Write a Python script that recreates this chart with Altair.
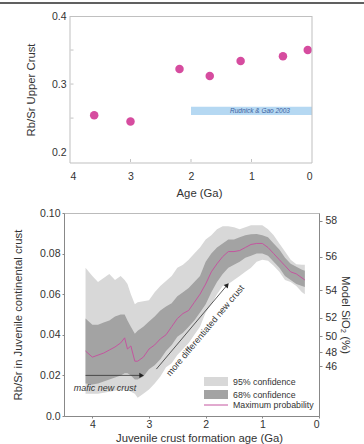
import altair as alt
import pandas as pd

# ---------------- top panel data ----------------
top_age = [3.6, 3.0, 2.19, 1.69, 1.18, 0.48, 0.07]
top_rbsr = [0.254, 0.245, 0.322, 0.312, 0.334, 0.341, 0.350]
ref_age_start = [2.0]
ref_age_end = [0.0]
ref_lo = [0.2546]
ref_hi = [0.2666]
ref_label = ["Rudnick & Gao 2003"]
ref_label_age = [0.86]
ref_label_val = [0.2607]
top_x_ticks = [0, 1, 2, 3, 4]
top_y_ticks = [0.2, 0.25, 0.3, 0.35, 0.4]
top_x_domain = [0, 4]
top_y_domain = [0.184, 0.4]

# ---------------- bottom panel data ----------------
ages = [4.12, 4.0, 3.9, 3.8, 3.7, 3.6, 3.5, 3.43, 3.38, 3.32, 3.25, 3.2, 3.1, 3.0,
        2.9, 2.8, 2.7, 2.6, 2.5, 2.4, 2.3, 2.2, 2.1, 2.0, 1.9, 1.8, 1.7, 1.6, 1.5,
        1.4, 1.3, 1.2, 1.1, 1.0, 0.9, 0.8, 0.7, 0.6, 0.5, 0.4, 0.3, 0.25]
max_prob = [0.032, 0.029, 0.030, 0.031, 0.0325, 0.034, 0.036, 0.0385, 0.033, 0.0345,
            0.027, 0.027, 0.029, 0.033, 0.035, 0.038, 0.040, 0.044, 0.048, 0.0505,
            0.052, 0.056, 0.060, 0.065, 0.071, 0.075, 0.0785, 0.081, 0.081, 0.0815,
            0.083, 0.0845, 0.085, 0.085, 0.083, 0.080, 0.077, 0.074, 0.071, 0.070,
            0.068, 0.067]
ci68_lo = [0.016, 0.0155, 0.016, 0.017, 0.018, 0.019, 0.020, 0.021, 0.021, 0.020,
           0.018, 0.018, 0.0195, 0.023, 0.025, 0.028, 0.032, 0.035, 0.039, 0.041,
           0.044, 0.047, 0.051, 0.055, 0.061, 0.066, 0.070, 0.073, 0.0745, 0.076,
           0.078, 0.079, 0.080, 0.080, 0.079, 0.076, 0.073, 0.069, 0.067, 0.065,
           0.064, 0.0635]
ci68_hi = [0.048, 0.045, 0.045, 0.046, 0.047, 0.049, 0.050, 0.050, 0.047, 0.044,
           0.0405, 0.042, 0.044, 0.0465, 0.049, 0.052, 0.054, 0.0555, 0.059, 0.061,
           0.063, 0.066, 0.069, 0.076, 0.080, 0.083, 0.085, 0.087, 0.087, 0.088,
           0.089, 0.0895, 0.0897, 0.089, 0.088, 0.085, 0.082, 0.078, 0.075, 0.0735,
           0.072, 0.0715]
ci95_lo = [0.011, 0.011, 0.011, 0.0115, 0.012, 0.0125, 0.013, 0.013, 0.013, 0.012,
           0.011, 0.009, 0.011, 0.013, 0.016, 0.0195, 0.024, 0.026, 0.030, 0.033,
           0.036, 0.040, 0.044, 0.051, 0.055, 0.060, 0.064, 0.065, 0.067, 0.069,
           0.071, 0.073, 0.076, 0.077, 0.0765, 0.074, 0.071, 0.067, 0.066, 0.064,
           0.061, 0.060]
ci95_hi = [0.073, 0.069, 0.066, 0.068, 0.070, 0.067, 0.069, 0.067, 0.065, 0.060,
           0.055, 0.056, 0.0565, 0.057, 0.061, 0.064, 0.0665, 0.069, 0.073, 0.0745,
           0.077, 0.080, 0.083, 0.087, 0.089, 0.092, 0.0935, 0.0935, 0.093, 0.092,
           0.093, 0.094, 0.094, 0.094, 0.092, 0.089, 0.085, 0.081, 0.077, 0.0748,
           0.0745, 0.0745]

sio2_labels = ["58", "56", "54", "52", "50", "48", "46"]
sio2_rbsr = [0.0962, 0.0784, 0.0620, 0.0484, 0.0393, 0.0313, 0.0245]

arrow_start_age = [4.12, 2.87]
arrow_start_val = [0.020, 0.0231]
arrow_end_age = [3.13, 1.62]
arrow_end_val = [0.020, 0.0645]
arrow_head_shape = ["triangle-right", "triangle-up"]
arrow_head_angle = [0, 40]

note_text = ["mafic new crust", "more differentiated new crust"]
note_age = [4.33, 2.01]
note_val = [0.0139, 0.0421]

legend_labels = ["95% confidence", "68% confidence", "Maximum probability"]

FONT = "Liberation Sans"
LINE_COLOR = "#c4559f"
DOT_COLOR = "#d64c9f"
FRAME = "#c0c0c0"
one = pd.DataFrame({"k": [0]})

# ================= TOP PANEL =================
top_df = pd.DataFrame({"age": top_age, "rbsr": top_rbsr})
ref_df = pd.DataFrame({"a0": ref_age_start, "a1": ref_age_end, "lo": ref_lo, "hi": ref_hi})
ref_txt = pd.DataFrame({"age": ref_label_age, "v": ref_label_val, "t": ref_label})
xt_df = pd.DataFrame({"age": top_x_ticks[1:-1]})
yt_df = pd.DataFrame({"v": top_y_ticks[1:-1]})

tx = alt.Scale(domain=top_x_domain, reverse=True, nice=False, range=[6, 248])
ty = alt.Scale(domain=top_y_domain, nice=False, zero=False)

top_x_axis = alt.Axis(values=top_x_ticks, format="d", title="Age (Ga)", grid=False,
                      ticks=False, labelPadding=8, titlePadding=6, domain=False,
                      titleX=135)
top_y_axis = alt.Axis(values=[0.2, 0.3, 0.4], format=".1f", title="Rb/Sr Upper Crust",
                      grid=False, ticks=False, labelPadding=4, titlePadding=15,
                      domain=False, offset=-6)


def bar(x0, x1, y0, y1, col):
    return alt.Chart(one).mark_rect(fill=col).encode(
        x=alt.value(x0), x2=alt.value(x1), y=alt.value(y0), y2=alt.value(y1))


frame_parts = [
    bar(5.5, 6.5, 0, 147, FRAME),      # left
    bar(247.5, 248.5, 0, 147, FRAME),  # right
    bar(6, 248, 0, 1, FRAME),          # top
    bar(6, 248, 146.5, 147.5, FRAME),  # bottom
]
top_line = bar(-64, 300, -14, -12, "#606060")

band = alt.Chart(ref_df).mark_rect(color="#b5d8f2").encode(
    x=alt.X("a0:Q", scale=tx, axis=top_x_axis),
    x2="a1:Q",
    y=alt.Y("lo:Q", scale=ty, axis=top_y_axis),
    y2="hi:Q",
)
band_text = alt.Chart(ref_txt).mark_text(
    fontSize=6.5, fontStyle="italic", color="#3d5f9e", font=FONT
).encode(x=alt.X("age:Q", scale=tx), y=alt.Y("v:Q", scale=ty), text="t:N")
dots = alt.Chart(top_df).mark_circle(size=72, color=DOT_COLOR, opacity=1).encode(
    x=alt.X("age:Q", scale=tx), y=alt.Y("rbsr:Q", scale=ty)
)
xticks_in = alt.Chart(xt_df).mark_tick(color="#aaa", thickness=1, size=3,
                                       orient="vertical").encode(
    x=alt.X("age:Q", scale=tx), y=alt.value(144.5)
)
yticks_in = alt.Chart(yt_df).mark_tick(color="#aaa", thickness=1, size=3,
                                       orient="horizontal").encode(
    y=alt.Y("v:Q", scale=ty), x=alt.value(8)
)
top = alt.layer(band, band_text, dots, xticks_in, yticks_in, *frame_parts,
                top_line).properties(
    width=248, height=147, view=alt.ViewBackground(stroke=None)
)

# ================= BOTTOM PANEL =================
df = pd.DataFrame({"age": ages, "maxp": max_prob, "lo68": ci68_lo, "hi68": ci68_hi,
                   "lo95": ci95_lo, "hi95": ci95_hi})

bx = alt.Scale(domain=[0, 4.5], reverse=True, nice=False)
by = alt.Scale(domain=[0, 0.1], nice=False)

bx_axis = alt.Axis(values=[0, 0.5, 1, 1.5, 2, 2.5, 3, 3.5, 4],
                   labelExpr="datum.value % 1 == 0 ? format(datum.value, 'd') : ''",
                   title="Juvenile crust formation age (Ga)", grid=False, tickSize=2,
                   labelPadding=1, titlePadding=3, domainColor="#888", tickColor="#888",
                   titleX=135)
by_axis = alt.Axis(values=[round(i * 0.01, 2) for i in range(11)],
                   labelExpr="round(datum.value*100) % 2 == 0 ? (datum.value == 0 ? '0.0' : format(datum.value, '.2f')) : ''",
                   title="Rb/Sr in Juvenile continental crust", grid=False, tickSize=2,
                   labelPadding=2, titlePadding=16, domainColor="#888", tickColor="#888")

a95 = alt.Chart(df).mark_area(color="#d8d8d8", opacity=1).encode(
    x=alt.X("age:Q", scale=bx, axis=bx_axis),
    y=alt.Y("lo95:Q", scale=by, axis=by_axis),
    y2="hi95:Q",
)
a68 = alt.Chart(df).mark_area(color="#a3a3a3", opacity=1).encode(
    x=alt.X("age:Q", scale=bx), y=alt.Y("lo68:Q", scale=by), y2="hi68:Q"
)
mline = alt.Chart(df).mark_line(color=LINE_COLOR, strokeWidth=1).encode(
    x=alt.X("age:Q", scale=bx), y=alt.Y("maxp:Q", scale=by)
)

arr_df = pd.DataFrame({"x0": arrow_start_age, "y0": arrow_start_val, "x1": arrow_end_age,
                       "y1": arrow_end_val, "shape": arrow_head_shape, "ang": arrow_head_angle})
arrows = alt.Chart(arr_df).mark_rule(color="#333", strokeWidth=0.8).encode(
    x=alt.X("x0:Q", scale=bx), y=alt.Y("y0:Q", scale=by), x2="x1:Q", y2="y1:Q"
)
heads = alt.Chart(arr_df).mark_point(filled=True, color="#222", size=28, opacity=1).encode(
    x=alt.X("x1:Q", scale=bx), y=alt.Y("y1:Q", scale=by),
    shape=alt.Shape("shape:N", scale=None), angle=alt.Angle("ang:Q", scale=None)
)

note_df = pd.DataFrame({"t": note_text, "age": note_age, "v": note_val})
note1 = alt.Chart(note_df.iloc[[0]]).mark_text(
    fontSize=9, fontStyle="italic", align="left", color="#333", font=FONT
).encode(x=alt.X("age:Q", scale=bx), y=alt.Y("v:Q", scale=by), text="t:N")
note2 = alt.Chart(note_df.iloc[[1]]).mark_text(
    fontSize=9, angle=310, align="center", color="#333", font=FONT
).encode(x=alt.X("age:Q", scale=bx), y=alt.Y("v:Q", scale=by), text="t:N")

leg_sw95 = alt.Chart(one).mark_rect(color="#d8d8d8").encode(
    x=alt.value(140), x2=alt.value(164), y=alt.value(164), y2=alt.value(173))
leg_sw68 = alt.Chart(one).mark_rect(color="#a3a3a3").encode(
    x=alt.value(140), x2=alt.value(164), y=alt.value(177), y2=alt.value(186))
leg_ln = alt.Chart(one).mark_rule(color=LINE_COLOR, strokeWidth=1).encode(
    x=alt.value(140), x2=alt.value(164), y=alt.value(192))
leg_txt = [
    alt.Chart(one).mark_text(align="left", baseline="middle", fontSize=8.8, color="#333",
                             font=FONT).encode(x=alt.value(169), y=alt.value(yy), text=alt.value(t))
    for t, yy in zip(legend_labels, [168.5, 181.5, 192])
]

main = alt.layer(a95, a68, mline, arrows, heads, note1, note2,
                 leg_sw95, leg_sw68, leg_ln, *leg_txt)

sio_df = pd.DataFrame({"rbsr": sio2_rbsr, "lab": sio2_labels})
thr = []
for i, lab in enumerate(sio2_labels):
    if i < len(sio2_labels) - 1:
        mid = (sio2_rbsr[i] + sio2_rbsr[i + 1]) / 2
        thr.append(f"datum.value > {mid:.5f} ? '{lab}' : ")
    else:
        thr.append(f"'{lab}'")
sio_expr = "".join(thr)
right_axis = alt.Chart(sio_df).mark_point(opacity=0).encode(
    y=alt.Y("rbsr:Q", scale=alt.Scale(domain=[0, 0.1], nice=False),
            axis=alt.Axis(orient="right", values=sio2_rbsr, labelExpr=sio_expr,
                          title="Model SiO\u2082 (%)", grid=False, tickSize=3,
                          labelPadding=3, titlePadding=3, domainColor="#888",
                          tickColor="#888"))
)

bottom = alt.layer(main, right_axis).resolve_scale(y="independent").properties(
    width=255, height=203)

chart = alt.vconcat(top, bottom, spacing=8).properties(
    padding={"left": 0, "top": 2, "right": 0, "bottom": 0}
).configure(font=FONT).configure_axis(
    labelFontSize=10.5, titleFontSize=11.3, labelColor="#333", titleColor="#333",
    titleFontWeight="normal", labelFont=FONT, titleFont=FONT
).configure_view(stroke="#bbb", strokeWidth=1)

chart.save("out.html", embed_options={"renderer": "svg", "actions": False})
